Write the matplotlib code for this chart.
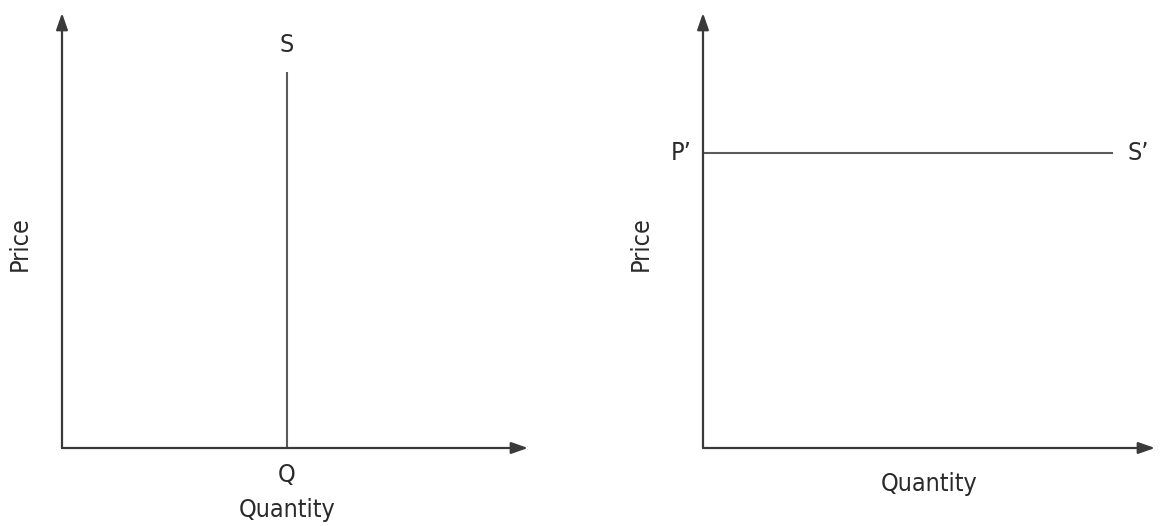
import matplotlib
matplotlib.use("Agg")
import matplotlib.pyplot as plt

# Data (in each panel's 0-100 data space)
left_supply_q = [48.3, 48.3]      # vertical supply at Q
left_supply_p = [0, 86.4]
right_supply_q = [0, 90.7]        # horizontal supply at P'
right_supply_p = [67.8, 67.8]
axis_labels = ["Quantity", "Price"]
left_labels = {"S": "S", "Q": "Q"}
right_labels = {"P": "P\u2019", "S": "S\u2019"}

W, H = 1162, 526
fig = plt.figure(figsize=(W / 100, H / 100), dpi=100)
fig.patch.set_facecolor("white")

line_col = "#5a5a5a"
text_col = "#2a2a2a"
fs = 18
fkw = dict(family="DejaVu Sans", stretch="condensed", color=text_col)


def make_axes(x0, y0, x1, y1):
    # pixel coords: origin (x0,y0), arrow tips x1, y1 (y from top)
    ax = fig.add_axes([x0 / W, 1 - y0 / H, (x1 - x0) / W, (y0 - y1) / H])
    ax.set_xlim(0, 100)
    ax.set_ylim(0, 100)
    ax.axis("off")
    arrow = dict(arrowstyle="-|>,head_length=1.0,head_width=0.35", color="#3a3a3a",
                 lw=1.6, shrinkA=0, shrinkB=0)
    ax.annotate("", xy=(100, 0), xytext=(0, 0), arrowprops=arrow, annotation_clip=False)
    ax.annotate("", xy=(0, 100), xytext=(0, 0), arrowprops=arrow, annotation_clip=False)
    return ax


# Left panel
axL = make_axes(62, 448, 528, 13)
axL.plot(left_supply_q, left_supply_p, color=line_col, lw=1.5, solid_capstyle="butt")
axL.text(left_supply_q[1], left_supply_p[1] + 3.5, left_labels["S"], ha="center", va="bottom", fontsize=fs, **fkw)
axL.text(left_supply_q[0], -3.5, left_labels["Q"], ha="center", va="top", fontsize=fs, **fkw)
axL.text(left_supply_q[0], -11.5, axis_labels[0], ha="center", va="top", fontsize=fs, **fkw)
axL.text(-9.0, 47, axis_labels[1], ha="center", va="center", rotation=90, fontsize=fs, **fkw)

# Right panel
axR = make_axes(703, 448, 1155, 13)
axR.plot(right_supply_q, right_supply_p, color=line_col, lw=1.5, solid_capstyle="butt")
axR.text(-2.5, right_supply_p[0], right_labels["P"], ha="right", va="center", fontsize=fs, **fkw)
axR.text(right_supply_q[1] + 3.2, right_supply_p[1], right_labels["S"], ha="left", va="center", fontsize=fs, **fkw)
axR.text(50, -5.5, axis_labels[0], ha="center", va="top", fontsize=fs, **fkw)
axR.text(-13.8, 47, axis_labels[1], ha="center", va="center", rotation=90, fontsize=fs, **fkw)

fig.savefig("out.png", dpi=100, facecolor="white")
